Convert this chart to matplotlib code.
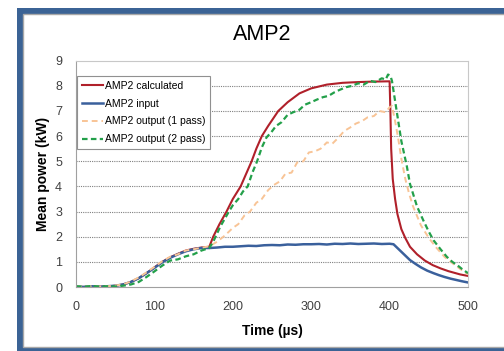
import matplotlib
matplotlib.use("Agg")
import matplotlib.pyplot as plt
from matplotlib.patches import Rectangle

plt.rcParams['font.family'] = ['Liberation Sans', 'DejaVu Sans']

# AMP2 calculated (smooth)
t_calc = [0, 20, 40, 50, 60, 70, 80, 90, 100, 110, 120, 130, 140, 150, 160, 170,
          175, 183, 192, 200, 210, 217, 224, 230, 237, 245, 258, 270, 285, 300,
          320, 340, 360, 380, 400, 401, 402, 404, 407, 410, 415, 420, 426, 435,
          445, 455, 465, 475, 490, 500]
p_calc = [0.0, 0.01, 0.02, 0.05, 0.1, 0.2, 0.35, 0.55, 0.78, 1.0, 1.18, 1.32, 1.45,
          1.52, 1.57, 1.6, 2.0, 2.5, 3.0, 3.5, 4.0, 4.5, 5.0, 5.5, 6.0, 6.4, 7.0,
          7.35, 7.7, 7.9, 8.05, 8.12, 8.15, 8.17, 8.18, 7.0, 5.5, 4.3, 3.5, 2.9,
          2.3, 1.95, 1.6, 1.3, 1.05, 0.87, 0.74, 0.63, 0.5, 0.44]

# AMP2 input
t_in = [0, 10, 20, 30, 40, 50, 60, 70, 80, 90, 100, 110, 120, 130, 140, 150, 160,
        170, 180, 190, 200, 210, 220, 230, 240, 250, 260, 270, 280, 290, 300, 310,
        320, 330, 340, 350, 360, 370, 380, 390, 400, 405, 410, 415, 420, 426, 433,
        440, 448, 456, 463, 470, 478, 485, 492, 500]
p_in = [0.02, 0.0, 0.03, 0.01, 0.03, 0.05, 0.1, 0.2, 0.35, 0.55, 0.76, 0.98, 1.16,
        1.3, 1.42, 1.5, 1.55, 1.55, 1.57, 1.6, 1.6, 1.62, 1.64, 1.63, 1.66, 1.67,
        1.66, 1.69, 1.68, 1.7, 1.7, 1.71, 1.69, 1.72, 1.71, 1.73, 1.71, 1.72, 1.73,
        1.71, 1.72, 1.7, 1.55, 1.4, 1.25, 1.07, 0.92, 0.78, 0.65, 0.55, 0.47, 0.4,
        0.33, 0.28, 0.23, 0.18]

# AMP2 output (1 pass)
t_out1 = [0, 10, 20, 30, 40, 50, 60, 70, 80, 90, 100, 110, 120, 130, 140, 150, 160,
          170, 180, 190, 200, 207, 215, 222, 230, 237, 245, 252, 260, 267, 275, 282,
          290, 297, 305, 312, 320, 327, 335, 342, 350, 357, 365, 372, 380, 387, 395,
          400, 403, 407, 411, 415, 420, 425, 430, 440, 450, 460, 470, 480, 490, 500]
p_out1 = [0.03, 0.0, 0.04, 0.02, 0.03, 0.06, 0.1, 0.22, 0.38, 0.58, 0.8, 1.02, 1.2,
          1.3, 1.45, 1.5, 1.56, 1.62, 1.8, 2.05, 2.35, 2.5, 2.85, 3.0, 3.35, 3.5,
          3.85, 4.05, 4.2, 4.5, 4.55, 4.95, 5.0, 5.35, 5.4, 5.5, 5.75, 5.7, 5.95, 6.2,
          6.35, 6.5, 6.6, 6.75, 6.8, 7.0, 6.95, 7.15, 7.2, 6.6, 5.9, 5.1, 4.3, 3.7,
          3.2, 2.45, 1.95, 1.55, 1.2, 0.95, 0.72, 0.5]

# AMP2 output (2 pass)
t_out2 = [0, 10, 20, 30, 40, 50, 60, 70, 80, 90, 100, 110, 120, 130, 140, 150, 160,
          170, 175, 184, 195, 200, 207, 213, 219, 225, 231, 237, 243, 249, 255, 262,
          270, 277, 285, 292, 300, 307, 315, 322, 330, 337, 345, 352, 360, 367, 375,
          382, 390, 395, 398, 401, 403, 406, 410, 415, 422, 426, 430, 435, 443, 450,
          456, 465, 473, 480, 487, 493, 500]
p_out2 = [0.03, 0.01, 0.04, 0.02, 0.03, 0.02, 0.05, 0.1, 0.2, 0.4, 0.62, 0.85, 1.05,
          1.1, 1.22, 1.3, 1.45, 1.55, 1.8, 2.4, 3.0, 3.25, 3.5, 3.8, 4.0, 4.55, 5.0,
          5.55, 5.95, 6.15, 6.4, 6.55, 6.85, 6.95, 7.05, 7.25, 7.35, 7.45, 7.55, 7.6,
          7.75, 7.85, 7.95, 8.0, 8.1, 8.05, 8.2, 8.15, 8.3, 8.25, 8.45, 8.4, 8.2, 7.6,
          6.8, 5.8, 4.8, 4.1, 3.7, 3.2, 2.65, 2.2, 1.86, 1.5, 1.2, 1.0, 0.85, 0.7, 0.55]

fig = plt.figure(figsize=(5.04, 3.51), dpi=100)

# blue slide frame
fig.patches.append(Rectangle((17 / 504, -0.02), 1.1, 343 / 351 + 0.02,
                             transform=fig.transFigure, facecolor='#3b6395',
                             edgecolor='none', zorder=-2))
fig.patches.append(Rectangle((23 / 504, 4 / 351), 1.1, 333 / 351,
                             transform=fig.transFigure, facecolor='white',
                             edgecolor='#a8a8a8', linewidth=1.0, zorder=-1))

ax = fig.add_axes([76 / 504, 1 - 287 / 351, 392 / 504, 226.3 / 351])

ax.plot(t_calc, p_calc, color='#b0202a', lw=1.5, label='AMP2 calculated')
ax.plot(t_in, p_in, color='#3a609c', lw=1.8, label='AMP2 input')
ax.plot(t_out1, p_out1, color='#f8c496', lw=1.4, linestyle=(0, (3, 2)),
        label='AMP2 output (1 pass)')
ax.plot(t_out2, p_out2, color='#23a04a', lw=1.6, linestyle=(0, (2.5, 1.5)),
        label='AMP2 output (2 pass)')

ax.set_xlim(0, 500)
ax.set_ylim(0, 9)
ax.set_xticks([0, 100, 200, 300, 400, 500])
ax.set_yticks(range(10))
ax.tick_params(length=0, labelsize=9, colors='#404040')
ax.tick_params(axis='x', pad=10)
ax.tick_params(axis='y', pad=10)
for y in range(1, 9):
    ax.axhline(y, color='#808080', lw=0.8, linestyle=(0, (1, 1)), zorder=0)
for s in ['left', 'bottom']:
    ax.spines[s].set_color('#a0a0a0')
for s in ['top', 'right']:
    ax.spines[s].set_color('#c8c8c8')

ax.set_xlabel('Time (µs)', fontsize=10, fontweight='bold', labelpad=8)
ax.set_ylabel('Mean power (kW)', fontsize=10, fontweight='bold', labelpad=4)
fig.text(262 / 504, 1 - 35 / 351, 'AMP2', ha='center', va='center', fontsize=15.5)

leg = ax.legend(loc='upper left', bbox_to_anchor=(0.003, 0.932), borderaxespad=0,
                fontsize=7.5, fancybox=False, framealpha=1, edgecolor='#909090',
                handlelength=2.0, handletextpad=0.2, labelspacing=0.75,
                borderpad=0.45)
leg.get_frame().set_linewidth(0.8)

fig.savefig('out.png', dpi=100)
